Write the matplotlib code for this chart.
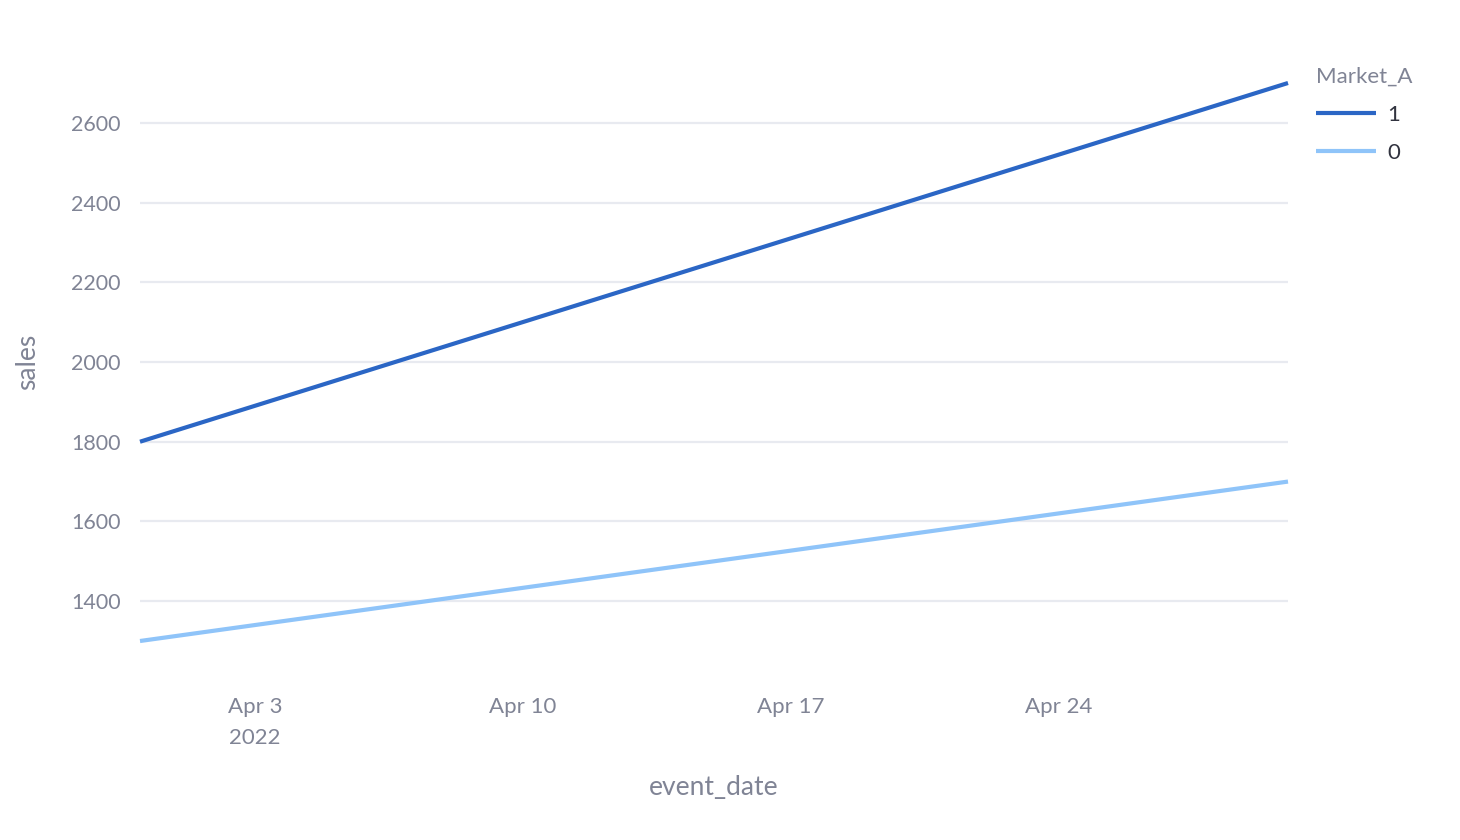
import pandas as pd
import matplotlib
matplotlib.use("Agg")
import matplotlib.pyplot as plt

plt.rcParams['font.family'] = ['Lato', 'DejaVu Sans']

# data
dates = pd.to_datetime(["2022-03-31", "2022-04-30"])
sales_1 = [1800, 2700]
sales_0 = [1300, 1700]
series_names = ["1", "0"]
tick_dates = pd.to_datetime(["2022-04-03", "2022-04-10", "2022-04-17", "2022-04-24"])
tick_labels = ["Apr 3\n2022", "Apr 10", "Apr 17", "Apr 24"]
y_ticks = [1400, 1600, 1800, 2000, 2200, 2400, 2600]

gray = "#808495"
grid_col = "#e8eaf0"
dark_blue = "#2b66c5"
light_blue = "#8fc4f9"

fig = plt.figure(figsize=(14.6, 8.4), dpi=100)
ax = fig.add_axes([0.0959, 0.2369, 0.7863, 0.6643])

ax.plot(dates, sales_1, color=dark_blue, lw=3, label=series_names[0],
        solid_capstyle="butt", clip_on=False)
ax.plot(dates, sales_0, color=light_blue, lw=3, label=series_names[1],
        solid_capstyle="butt", clip_on=False)

ax.set_xlim(dates[0], dates[-1])
ax.set_ylim(1300, 2700)

ax.set_xticks(tick_dates)
ax.set_xticklabels(tick_labels, fontsize=16, color=gray, va="top", linespacing=1.7)
ax.set_yticks(y_ticks)
ax.set_yticklabels([str(v) for v in y_ticks], fontsize=15.5, color=gray)
ax.tick_params(axis="x", length=0, pad=40)
ax.tick_params(axis="y", length=0, pad=14)

ax.grid(axis="y", color=grid_col, lw=1.6)
ax.set_axisbelow(True)
for s in ax.spines.values():
    s.set_visible(False)

ax.set_xlabel("event_date", fontsize=19, color=gray, va="center")
ax.xaxis.set_label_coords(0.5, -0.262)
ax.set_ylabel("sales", fontsize=19, color=gray, va="center")
ax.yaxis.set_label_coords(-0.098, 0.5)

leg = fig.legend(loc="upper left", bbox_to_anchor=(1296 / 1460, 1 - 47 / 840),
                 frameon=False, fontsize=16, title="Market_A", title_fontsize=16,
                 handlelength=2.7, handletextpad=0.5, labelspacing=0.8,
                 alignment="left")
leg.get_title().set_color(gray)
for t in leg.get_texts():
    t.set_color("#31333f")

fig.savefig("out.png", dpi=100)
